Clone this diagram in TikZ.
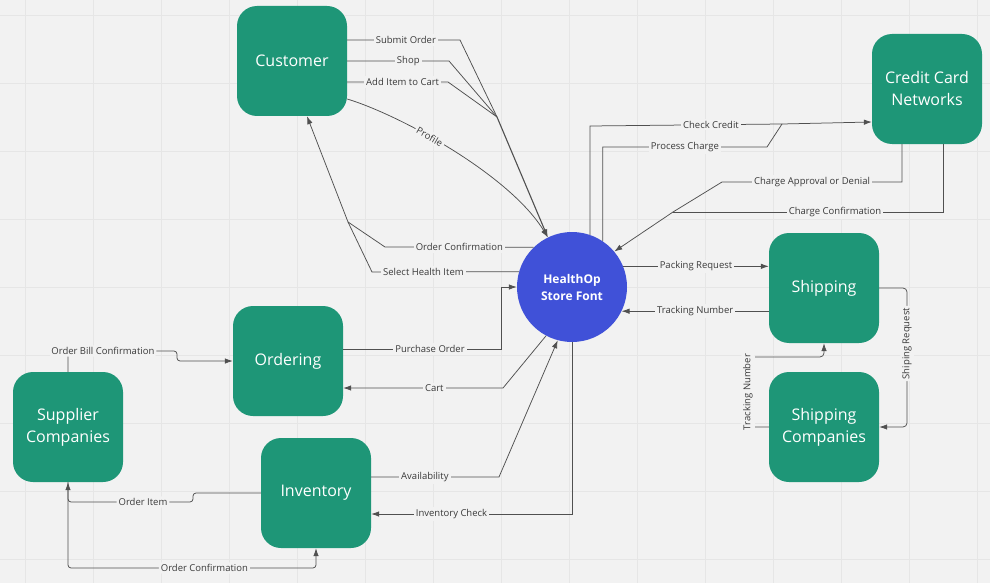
\documentclass[tikz,border=0pt]{standalone}
\usepackage{fontspec}
\setmainfont{Open Sans}
\usetikzlibrary{arrows.meta, calc}

\definecolor{bgc}{HTML}{F2F2F2}
\definecolor{gridc}{HTML}{E6E6E6}
\definecolor{boxgreen}{HTML}{1E9677}
\definecolor{hubblue}{HTML}{4051D8}
\definecolor{linec}{HTML}{505050}
\definecolor{txtc}{HTML}{3A3A3A}

\tikzset{
  proc/.style={fill=boxgreen, rounded corners=20pt, minimum width=110pt, minimum height=110pt,
    text=white, align=center, font=\fontsize{16}{22}\selectfont},
  hubnode/.style={circle, fill=hubblue, minimum size=110pt, inner sep=0pt, text=white,
    align=center, font=\fontsize{12}{17}\selectfont\bfseries},
  flow/.style={draw=linec, line width=0.75pt},
  arr/.style={flow, -{Latex[length=8pt,width=5.5pt]}},
  lbl/.style={fill=bgc, text=txtc, inner sep=2pt, font=\fontsize{9.5}{11}\selectfont},
  gridline/.style={draw=gridc, line width=0.6pt}
}

\begin{document}
\begin{tikzpicture}[x=1pt, y=-1pt]
        \path[use as bounding box, fill=bgc] (0,0) rectangle (990,583);
        \foreach \x in {25,93,...,977} {
            \draw[gridline] (\x,0) -- (\x,583);
        }
        \foreach \y in {15,83,...,559} {
            \draw[gridline] (0,\y) -- (990,\y);
        }

        \node[proc] (cust) at (292,61) {Customer};
        \node[proc] (ccn) at (927,89) {Credit Card\\Networks};
        \node[proc] (ship) at (824,288) {Shipping};
        \node[proc] (shipco) at (824,427) {Shipping\\Companies};
        \node[proc] (ord) at (288,361) {Ordering};
        \node[proc] (sup) at (68,427) {Supplier\\Companies};
        \node[proc] (inv) at (316,493) {Inventory};
        \node[hubnode] (hub) at (572,287) {HealthOp\\Store Font};

        \coordinate (shopjoin) at (497,117);
        \coordinate (custjoin) at (348,222);
        \coordinate (creditjoin) at (782,124);
        \coordinate (chargejoin) at (673,212);

        \draw[flow] (cust.east |- 0,40) -- node[lbl, pos=.52]{Submit Order} (460,40) -- (shopjoin);
        \draw[flow] (cust.east |- 0,61) -- node[lbl, pos=.6]{Shop} (449,61) -- (shopjoin);
        \draw[flow] (cust.east |- 0,82) -- node[lbl, pos=.55]{Add Item to Cart} (448,82) -- (shopjoin);
        \draw[arr, line width=1.1pt] (shopjoin) -- (hub.116);
        \draw[arr] (cust.east |- 0,99) .. controls (400,115) and (510,175) .. node[lbl, sloped, pos=.4]{Profile} (hub.116);

        \draw[flow] (hub.134) -- node[lbl]{Order Confirmation} (385,247) -- (custjoin);
        \draw[flow] (hub.164) -- node[lbl, pos=.65]{Select Health Item} (372,272) -- (custjoin);
        \draw[arr] (custjoin) -- (cust.south -| 307,0);

        \draw[flow] (hub.71) -- (hub.71 |- 0,126) -- node[lbl, pos=.63]{Check Credit} (creditjoin);
        \draw[flow] (hub.56) -- (hub.56 |- 0,147) -- node[lbl]{Process Charge} (767,147) -- (creditjoin);
        \draw[arr] (creditjoin) -- (ccn.west |- 0,122);

        \draw[flow] (ccn.south -| 902,0) -- (902,182) -- node[lbl]{Charge Approval or Denial} (722,182) -- (chargejoin);
        \draw[flow] (ccn.south -| 943,0) -- (943,212) -- node[lbl, pos=.4]{Charge Confirmation} (chargejoin);
        \draw[arr] (chargejoin) -- (hub.40);

        \draw[arr] (hub.22) -- node[lbl]{Packing Request} (ship.west |- hub.22);
        \draw[arr] (ship.west |- hub.-26) -- node[lbl]{Tracking Number} (hub.-26);
        \draw[arr, rounded corners=4pt] (ship.east) -- (907,288) -- node[lbl, rotate=90, pos=.4]{Shiping Request} (907,427) -- (shipco.east);
        \draw[arr, rounded corners=4pt] (shipco.west) -- (748,427) -- node[lbl, rotate=90]{Tracking Number} (748,357) -- (824,357) -- (ship.south);

        \draw[arr] (ord.east |- 0,349) -- node[lbl, pos=.55]{Purchase Order} (501,349) |- (hub.west);
        \draw[arr] (hub.242) -- (503,388) -- node[lbl, pos=.43]{Cart} (ord.east |- 0,388);
        \draw[arr] (inv.east |- 0,477) -- node[lbl, pos=.42]{Availability} (499,477) -- (hub.255);
        \draw[arr] (hub.south) |- node[lbl, pos=.8]{Inventory Check} (inv.east |- 0,514);

        \draw[arr, rounded corners=3pt] (sup.north) -- (sup.north |- 0,351) -- node[lbl, pos=.32]{Order Bill Confirmation} (177,351) -- (177,361) -- (ord.west);
        \draw[arr, rounded corners=3pt] (inv.west |- 0,493) -- (193,493) -- (193,502) -- node[lbl, pos=.4]{Order Item} (sup.south |- 0,502) -- (sup.south);
        \draw[arr, rounded corners=3pt] (sup.south) -- (sup.south |- 0,568) -- node[lbl, pos=.55]{Order Confirmation} (inv.south |- 0,568) -- (inv.south);
    \end{tikzpicture}
\end{document}
